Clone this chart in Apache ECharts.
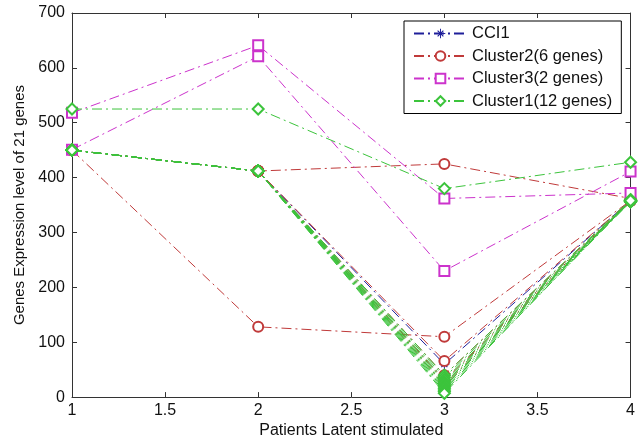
<!DOCTYPE html>
<html>
<head>
<meta charset="utf-8">
<script src="https://cdn.jsdelivr.net/npm/echarts@6/dist/echarts.min.js"></script>
<style>
  html, body { margin: 0; padding: 0; background: #fff; }
  #chart { width: 638px; height: 444px; }
</style>
</head>
<body>
<div id="chart"></div>
<script>
// Sampling points on the x axis
const patients = [1, 2, 3, 4];
const xTicks = [1, 1.5, 2, 2.5, 3, 3.5, 4];
const yTicks = [0, 100, 200, 300, 400, 500, 600, 700];

// Expression profiles, one row per gene
const cci1 = [450, 412, 60, 358];

const cluster2 = [
  [450, 128, 110, 358],
  [450, 412, 425, 362],
  [450, 412, 66, 358],
  [450, 412, 40, 358],
  [450, 412, 30, 358],
  [450, 412, 22, 358]
];

const cluster3 = [
  [518, 641, 362, 372],
  [451, 621, 230, 411]
];

const cluster1 = [
  [525, 525, 380, 428],
  [450, 412, 40, 360],
  [450, 412, 36, 358],
  [450, 412, 32, 358],
  [450, 412, 28, 357],
  [450, 412, 25, 358],
  [450, 412, 22, 356],
  [450, 412, 19, 358],
  [450, 412, 16, 357],
  [450, 412, 13, 358],
  [450, 412, 10, 356],
  [450, 412, 7, 358]
];

const groupNames = ['CCI1', 'Cluster2(6 genes)', 'Cluster3(2 genes)', 'Cluster1(12 genes)'];
const groupColors = ['#1f1f9a', '#c03a3a', '#cc33cc', '#3cc43c'];

// Asterisk marker made of four thin bars
const starPath = 'path://M-1,-10 L1,-10 L1,10 L-1,10 Z M-10,-1 L10,-1 L10,1 L-10,1 Z ' +
  'M-5.15,-6.85 L6.85,5.15 L5.15,6.85 L-6.85,-5.15 Z ' +
  'M-6.85,5.15 L5.15,-6.85 L6.85,-5.15 L-5.15,6.85 Z';
const groupSymbols = [starPath, 'emptyCircle', 'emptyRect', 'emptyDiamond'];
const groupSymbolSizes = [10, 10, 10, 11];

const dashDot = [10, 4, 2, 4];
const font = 'Liberation Sans, Arial, sans-serif';

function makeSeries(rows, g) {
  return rows.map(function (row) {
    return {
      name: groupNames[g],
      type: 'line',
      xAxisIndex: 0,
      yAxisIndex: 0,
      data: patients.map(function (x, i) { return [x, row[i]]; }),
      symbol: groupSymbols[g],
      symbolSize: groupSymbolSizes[g],
      showSymbol: true,
      color: groupColors[g],
      itemStyle: { color: groupColors[g], borderWidth: 1 },
      lineStyle: { color: groupColors[g], width: 1, type: dashDot },
      emphasis: { disabled: true },
      animation: false
    };
  });
}

const series = []
  .concat(makeSeries([cci1], 0))
  .concat(makeSeries(cluster2, 1))
  .concat(makeSeries(cluster3, 2))
  .concat(makeSeries(cluster1, 3));

const axisColor = '#333';

const chart = echarts.init(document.getElementById('chart'), null, { renderer: 'canvas' });
chart.setOption({
  backgroundColor: '#fff',
  animation: false,
  grid: { left: 72, right: 5, top: 13, bottom: 43, containLabel: false },
  legend: {
    data: groupNames,
    orient: 'vertical',
    left: 404,
    top: 21,
    padding: [4, 9, 4, 9],
    itemGap: 5.5,
    itemWidth: 53,
    itemHeight: 12,
    backgroundColor: '#fff',
    borderColor: '#000',
    borderWidth: 1,
    textStyle: { fontFamily: font, fontSize: 16.5, color: '#111', lineHeight: 16 }
  },
  xAxis: [
    {
      type: 'value', position: 'bottom', min: 1, max: 4, interval: 0.5,
      name: 'Patients Latent stimulated', nameLocation: 'middle', nameGap: 17,
      nameTextStyle: { fontFamily: font, fontSize: 16, color: '#111' },
      axisLine: { show: true, onZero: false, lineStyle: { color: axisColor, width: 1 } },
      axisTick: { show: true, inside: true, length: 5, lineStyle: { color: axisColor } },
      axisLabel: { margin: 5, fontFamily: font, fontSize: 16, color: '#111',
        formatter: function (v) { return xTicks.indexOf(v) >= 0 ? String(v) : ''; } },
      splitLine: { show: false }
    },
    {
      type: 'value', position: 'top', min: 1, max: 4, interval: 0.5,
      axisLine: { show: true, onZero: false, lineStyle: { color: axisColor, width: 1 } },
      axisTick: { show: true, inside: true, length: 5, lineStyle: { color: axisColor } },
      axisLabel: { show: false },
      splitLine: { show: false }
    }
  ],
  yAxis: [
    {
      type: 'value', position: 'left', min: 0, max: 700, interval: 100,
      name: 'Genes Expression level of 21 genes', nameLocation: 'middle', nameGap: 44,
      nameTextStyle: { fontFamily: font, fontSize: 15, color: '#111' },
      axisLine: { show: true, onZero: false, lineStyle: { color: axisColor, width: 1 } },
      axisTick: { show: true, inside: true, length: 5, lineStyle: { color: axisColor } },
      axisLabel: { margin: 7, fontFamily: font, fontSize: 16, color: '#111',
        formatter: function (v) { return yTicks.indexOf(v) >= 0 ? String(v) : ''; } },
      splitLine: { show: false }
    },
    {
      type: 'value', position: 'right', min: 0, max: 700, interval: 100,
      axisLine: { show: true, onZero: false, lineStyle: { color: axisColor, width: 1 } },
      axisTick: { show: true, inside: true, length: 5, lineStyle: { color: axisColor } },
      axisLabel: { show: false },
      splitLine: { show: false }
    }
  ],
  series: series
});
</script>
</body>
</html>
